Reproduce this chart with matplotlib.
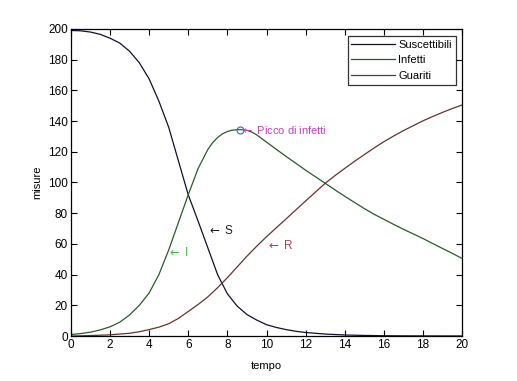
import matplotlib
matplotlib.use("Agg")
import matplotlib.pyplot as plt

plt.rcParams['font.family'] = ['Liberation Sans', 'DejaVu Sans']

t_S = [0, 0.5, 1, 1.5, 2, 2.5, 3, 3.5, 4, 4.5, 5, 5.5, 6, 6.5, 7, 7.5, 8, 8.5, 9, 9.5, 10, 10.5, 11, 11.5, 12, 13, 14, 15, 16, 17, 18, 19, 20]
S = [199, 198.8, 198, 196.5, 194, 190.8, 185.5, 178, 167.5, 153, 136, 114, 92, 75, 57.5, 40, 27.5, 19.5, 14, 10.4, 7.4, 5.6, 4.2, 3.1, 2.3, 1.3, 0.7, 0.4, 0.2, 0.12, 0.08, 0.05, 0.03]

t_I = [0, 0.5, 1, 1.5, 2, 2.5, 3, 3.5, 4, 4.5, 5, 5.5, 6, 6.5, 7, 7.25, 7.5, 7.75, 8, 8.25, 8.65, 9, 9.25, 9.5, 10, 10.5, 11, 12, 13, 13.5, 14, 14.5, 15, 15.5, 16, 16.5, 17, 17.5, 18, 18.5, 19, 19.5, 20]
I = [1, 1.6, 2.5, 4, 6, 9, 13.7, 20, 28, 40, 56, 74, 92, 109, 121.5, 126, 129.3, 131.7, 133.2, 134.1, 134.5, 134, 132.8, 131, 126.3, 121.6, 117, 108, 99.5, 95.2, 91, 87, 83, 79.3, 76, 72.7, 69.5, 66.5, 63.5, 60.2, 57, 53.8, 50.5]

t_R = [0, 1, 2, 3, 3.5, 4, 4.5, 5, 5.5, 6, 6.5, 7, 7.5, 8, 8.5, 9, 9.5, 10, 11, 12, 13, 13.5, 14, 14.5, 15, 15.5, 16, 16.5, 17, 17.5, 18, 18.5, 19, 19.5, 20]
R = [0, 0.3, 0.8, 1.8, 2.8, 4.2, 5.8, 8, 11.5, 16, 20.5, 25.5, 31.5, 38, 45, 52, 58.5, 64.7, 76.3, 88, 99.5, 104.5, 109.2, 113.8, 118.2, 122.5, 126.6, 130.3, 133.8, 137, 140.2, 143, 145.7, 148.2, 150.5]

labels = ['Suscettibili', 'Infetti', 'Guariti']
peak_t, peak_v = 8.65, 134.5

fig = plt.figure(figsize=(5.17, 3.81), dpi=100)
ax = fig.add_axes([0.137, 0.118, 0.757, 0.806])

ax.plot(t_S, S, color='#101030', lw=0.9, label=labels[0])
ax.plot(t_I, I, color='#2a5a2a', lw=0.9, label=labels[1])
ax.plot(t_R, R, color='#6a3030', lw=0.9, label=labels[2])

ax.plot([peak_t], [peak_v], 'o', mfc='none', mec='#5070b0', ms=5, mew=0.9)
ax.text(peak_t, peak_v, r'$\leftarrow$ Picco di infetti', color='#c040c0', fontsize=8, va='center', ha='left')
ax.text(6.95, 69, r'$\leftarrow$ S', color='#202020', fontsize=8.5, va='center', ha='left')
ax.text(4.9, 54.5, r'$\leftarrow$ I', color='#40c040', fontsize=8.5, va='center', ha='left')
ax.text(9.95, 59, r'$\leftarrow$ R', color='#a04848', fontsize=8.5, va='center', ha='left')

ax.set_xlim(0, 20)
ax.set_ylim(0, 200)
ax.set_xticks(range(0, 21, 2))
ax.set_yticks(range(0, 201, 20))
ax.tick_params(direction='in', top=True, right=True, labelsize=8.5, length=4, width=0.8, pad=2)
for sp in ax.spines.values():
    sp.set_linewidth(0.9)
ax.set_xlabel('tempo', fontsize=8, labelpad=7)
ax.set_ylabel('misure', fontsize=8, labelpad=4)

leg = ax.legend(loc='upper right', fontsize=8, frameon=True, fancybox=False,
                edgecolor='black', borderpad=0.35, handlelength=3.9, handletextpad=0.3,
                labelspacing=0.5, borderaxespad=0.6)
leg.get_frame().set_linewidth(0.9)

fig.savefig('out.png', dpi=100, facecolor='white')
